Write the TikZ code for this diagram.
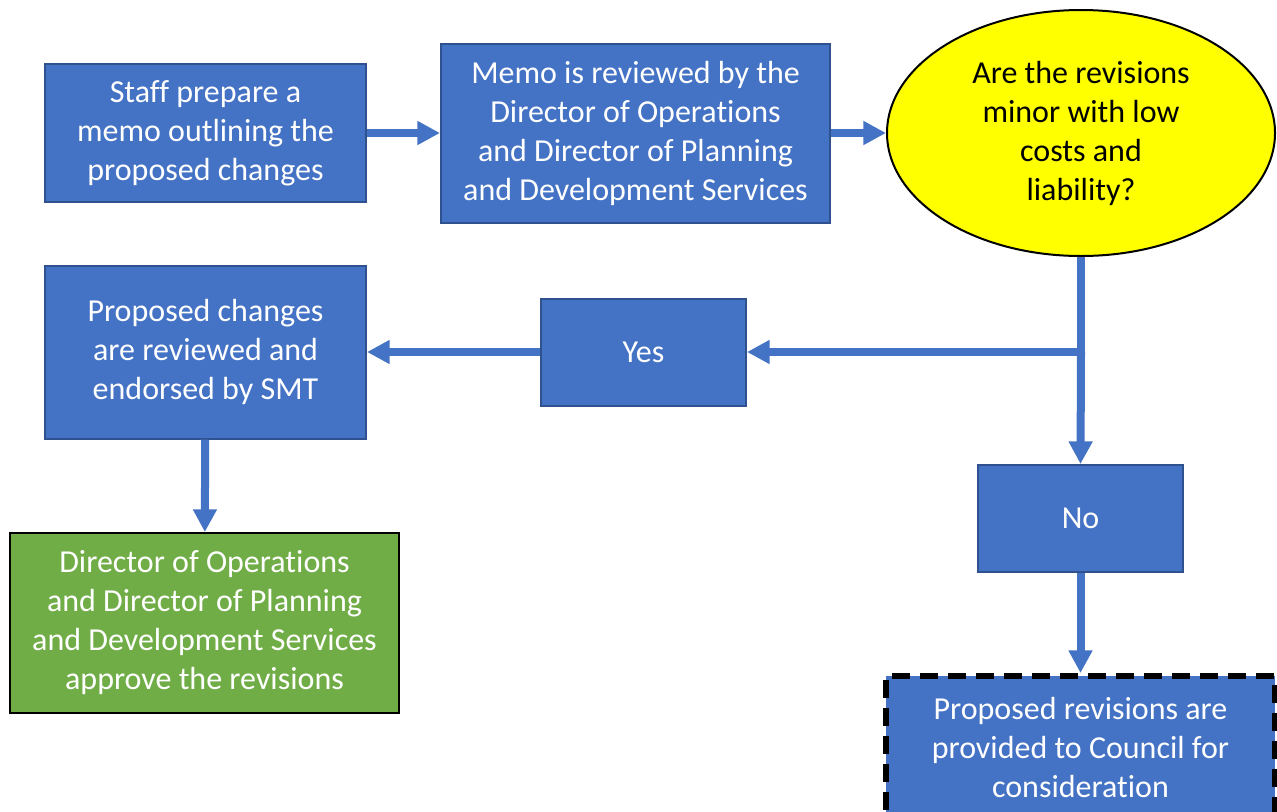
\documentclass[tikz,border=0pt]{standalone}
\usepackage{fontspec}
\setmainfont{Carlito}[Ligatures=NoCommon]
\usetikzlibrary{arrows.meta,shapes.geometric}
\definecolor{boxblue}{HTML}{4472C4}
\definecolor{edgeblue}{HTML}{2F528F}
\definecolor{boxgreen}{HTML}{70AD47}
\definecolor{askyellow}{HTML}{FFFF00}
\begin{document}
\begin{tikzpicture}[x=0.75pt, y=-0.75pt,
    every node/.style={font=\fontsize{24}{29.25}\selectfont, align=center, inner sep=0pt},
    stepbox/.style={draw=edgeblue, line width=1.5pt, fill=boxblue, text=white},
    flow/.style={draw=boxblue, line width=6pt, -{Triangle[length=17pt, width=17pt]}},
    ]

    \useasboundingbox (0,0) rectangle (1277,811);
    \clip (0,0) rectangle (1277,811);

    \node [stepbox, minimum width=240.75pt, minimum height=103.5pt] (staff) at (205.5,133) {Staff prepare a\\memo outlining the\\proposed changes};
    \node [stepbox, minimum width=291.75pt, minimum height=134.25pt] (memo) at (635.5,133) {Memo is reviewed by the\\Director of Operations\\and Director of Planning\\and Development Services};
    \node [ellipse, draw=black, line width=1.5pt, fill=askyellow, text=black, minimum width=291pt, minimum height=184.5pt] (ask) at (1081,133) {Are the revisions\\minor with low\\costs and\\liability?};

    \node [stepbox, minimum width=240.75pt, minimum height=129.75pt] (smt) at (205.5,352) {Proposed changes\\are reviewed and\\endorsed by SMT};
    \node [stepbox, minimum width=153.75pt, minimum height=80.25pt] (yes) at (643.5,352) {Yes};
    \node [stepbox, minimum width=153.75pt, minimum height=80.25pt] (no) at (1080.5,518.5) {No};

    \node [draw=black, line width=1.5pt, fill=boxgreen, text=white, minimum width=291.75pt, minimum height=135pt] (approve) at (204.5,623) {Director of Operations\\and Director of Planning\\and Development Services\\approve the revisions};
    \node [fill=boxblue, text=white, draw=black, line width=4.5pt, dash pattern=on 13.5pt off 7.5pt, minimum width=291.75pt, minimum height=106.5pt, anchor=north] (council) at (1080.5,673) {Proposed revisions are\\provided to Council for\\consideration};

    \coordinate (split) at (1081,352);

    \draw [flow] (staff) -- (memo);
    \draw [flow] (memo) -- (ask);
    \draw [flow, -] (ask.south) -- (split);
    \draw [flow] (split) -- (yes.east);
    \draw [flow] (split) -- (no.north);
    \draw [flow] (yes) -- (smt);
    \draw [flow] (smt) -- (approve);
    \draw [flow] (no) -- (council);

\end{tikzpicture}
\end{document}
